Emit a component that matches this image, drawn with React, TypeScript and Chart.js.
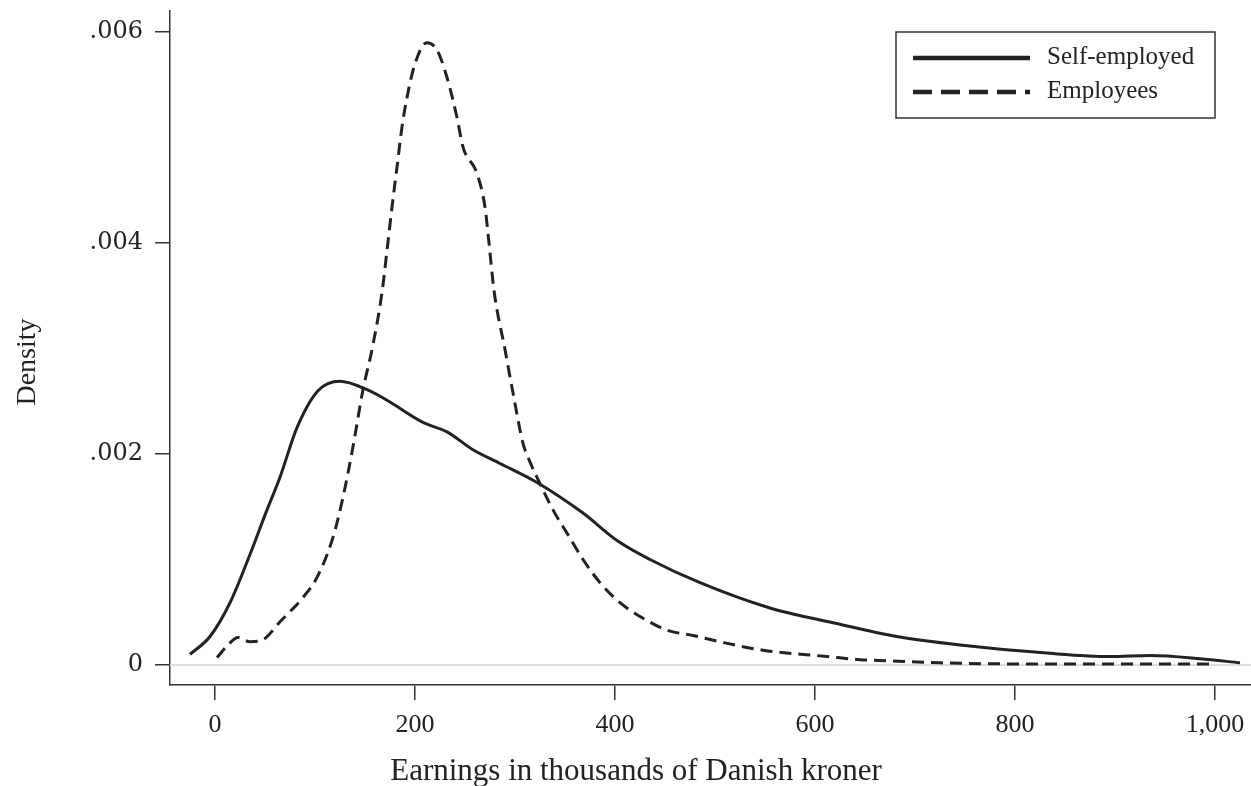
import React, { useEffect, useRef } from "react";
import { Chart, registerables } from "chart.js";

Chart.register(...registerables);

// ---- Data ----
const selfEmployedX = [-25, -5, 15, 33, 52, 65, 82, 103, 125, 152, 172, 208, 232, 258, 285, 322, 368, 402, 435, 485, 555, 618, 682, 745, 835, 895, 935, 985, 1025];
const selfEmployedY = [0.0001, 0.00027, 0.00059, 0.001, 0.00147, 0.00178, 0.00225, 0.0026, 0.00269, 0.00261, 0.00251, 0.0023, 0.00221, 0.00204, 0.00191, 0.00173, 0.00144, 0.00118, 0.001, 0.00078, 0.00054, 0.0004, 0.00027, 0.00019, 0.00011, 0.00008, 0.00009, 0.00006, 0.00002];

const employeesX = [2, 13, 23, 35, 48, 65, 88, 102, 118, 128, 138, 148, 157, 167, 172, 177, 182, 187, 192, 200, 212, 222, 232, 242, 248, 262, 270, 274, 279, 290, 298, 308, 313, 328, 338, 352, 368, 385, 405, 425, 452, 478, 505, 548, 612, 645, 672, 725, 800, 900, 1000];
const employeesY = [0.00007, 0.00019, 0.00026, 0.00022, 0.00024, 0.00041, 0.00064, 0.00083, 0.00121, 0.00159, 0.00207, 0.00261, 0.00299, 0.00353, 0.00393, 0.00434, 0.00472, 0.0051, 0.00538, 0.0057, 0.0059, 0.00583, 0.00557, 0.00519, 0.00491, 0.00466, 0.00434, 0.004, 0.00355, 0.00299, 0.00258, 0.0021, 0.00197, 0.00166, 0.00147, 0.00125, 0.001, 0.00078, 0.00059, 0.00046, 0.00033, 0.00028, 0.00022, 0.00014, 0.00008, 0.00005, 0.00004, 0.00002, 0.00001, 0.00001, 0.00001];

const xTicks = [0, 200, 400, 600, 800, 1000];
const xTickLabels = ["0", "200", "400", "600", "800", "1,000"];
const yTicks = [0, 0.002, 0.004, 0.006];
const yTickLabels = ["0", ".002", ".004", ".006"];

const seriesLabels = ["Self-employed", "Employees"];
const xTitle = "Earnings in thousands of Danish kroner";
const yTitle = "Density";

const INK = "#222222";
const SERIF = "'Liberation Serif', 'Times New Roman', serif";
const WIDE_SERIF = "'DejaVu Serif', serif";

const zeroLinePlugin = {
  id: "zeroLine",
  beforeDatasetsDraw(chart: any) {
    const { ctx, chartArea, scales } = chart;
    const y = scales.y.getPixelForValue(0);
    ctx.save();
    ctx.strokeStyle = "#dcdcdc";
    ctx.lineWidth = 2;
    ctx.beginPath();
    ctx.moveTo(chartArea.left, y);
    ctx.lineTo(chartArea.right, y);
    ctx.stroke();
    ctx.restore();
  },
};

const axisTitlesPlugin = {
  id: "axisTitles",
  afterDraw(chart: any) {
    const { ctx, chartArea } = chart;
    ctx.save();
    ctx.fillStyle = INK;
    ctx.textAlign = "center";
    ctx.textBaseline = "middle";
    ctx.font = `31px ${SERIF}`;
    ctx.fillText(xTitle, chartArea.left + 466, chartArea.bottom + 87);
    ctx.translate(28, chartArea.top + 351);
    ctx.rotate(-Math.PI / 2);
    ctx.font = `28px ${SERIF}`;
    ctx.fillText(yTitle, 0, 0);
    ctx.restore();
  },
};

const boxLegendPlugin = {
  id: "boxLegend",
  afterDraw(chart: any) {
    const { ctx, chartArea } = chart;
    const right = chartArea.right - 36;
    const top = chartArea.top + 21;
    const w = 319;
    const h = 86;
    const left = right - w;
    ctx.save();
    ctx.strokeStyle = "#333";
    ctx.lineWidth = 1.5;
    ctx.strokeRect(left, top, w, h);
    chart.data.datasets.forEach((ds: any, i: number) => {
      const cy = top + 26 + i * 34;
      ctx.strokeStyle = INK;
      ctx.lineWidth = 4.5;
      ctx.setLineDash(i === 0 ? [] : [19, 9]);
      ctx.beginPath();
      ctx.moveTo(left + 17, cy);
      ctx.lineTo(left + 134, cy);
      ctx.stroke();
      ctx.setLineDash([]);
      ctx.fillStyle = INK;
      ctx.font = `25px ${SERIF}`;
      ctx.textBaseline = "middle";
      ctx.textAlign = "left";
      ctx.fillText(ds.label, left + 151, cy - 1);
    });
    ctx.restore();
  },
};

export default function App() {
  const canvasRef = useRef<HTMLCanvasElement | null>(null);

  useEffect(() => {
    document.body.style.margin = "0";
    const canvas = canvasRef.current;
    if (!canvas) return;
    const chart = new Chart(canvas, {
      type: "line",
      data: {
        datasets: [
          {
            label: seriesLabels[0],
            data: selfEmployedX.map((x, i) => ({ x, y: selfEmployedY[i] })),
            borderColor: INK,
            borderWidth: 3,
            pointRadius: 0,
            fill: false,
            cubicInterpolationMode: "monotone",
          },
          {
            label: seriesLabels[1],
            data: employeesX.map((x, i) => ({ x, y: employeesY[i] })),
            borderColor: INK,
            borderWidth: 3,
            borderDash: [12, 7],
            pointRadius: 0,
            fill: false,
            cubicInterpolationMode: "monotone",
          },
        ],
      },
      options: {
        animation: false,
        responsive: false,
        layout: { padding: { top: 11, right: 0, left: 0, bottom: 0 } },
        plugins: {
          legend: { display: false },
          tooltip: { enabled: false },
        },
        scales: {
          x: {
            type: "linear",
            min: -45,
            max: 1036,
            afterBuildTicks: (scale: any) => {
              scale.ticks = xTicks.map((v) => ({ value: v }));
            },
            afterFit: (scale: any) => {
              scale.height = 101;
              scale.paddingLeft = 0;
              scale.paddingRight = 0;
            },
            ticks: {
              autoSkip: false,
              maxRotation: 0,
              padding: 10,
              color: INK,
              font: { family: SERIF, size: 26 },
              callback: (v: any) => {
                const idx = xTicks.indexOf(Number(v));
                return idx >= 0 ? xTickLabels[idx] : "";
              },
            },
            grid: {
              display: true,
              drawOnChartArea: false,
              drawTicks: true,
              tickLength: 15,
              color: "#333",
              lineWidth: 1.5,
            },
            border: { display: true, color: "#333", width: 1.5 },
            title: { display: false },
          },
          y: {
            type: "linear",
            min: -0.00019,
            max: 0.0062,
            afterBuildTicks: (scale: any) => {
              scale.ticks = yTicks.map((v) => ({ value: v }));
            },
            afterFit: (scale: any) => {
              scale.width = 170;
              scale.paddingTop = 0;
              scale.paddingBottom = 0;
            },
            ticks: {
              autoSkip: false,
              padding: 12,
              color: INK,
              font: { family: WIDE_SERIF, size: 24 },
              callback: (v: any) => {
                const idx = yTicks.findIndex((t) => Math.abs(t - Number(v)) < 1e-9);
                return idx >= 0 ? yTickLabels[idx] : "";
              },
            },
            grid: {
              display: true,
              drawOnChartArea: false,
              drawTicks: true,
              tickLength: 15,
              color: "#333",
              lineWidth: 1.5,
            },
            border: { display: true, color: "#333", width: 1.5 },
            title: { display: false },
          },
        },
      },
      plugins: [zeroLinePlugin, axisTitlesPlugin, boxLegendPlugin],
    });
    return () => chart.destroy();
  }, []);

  return <canvas ref={canvasRef} width={1251} height={786} style={{ display: "block" }} />;
}
